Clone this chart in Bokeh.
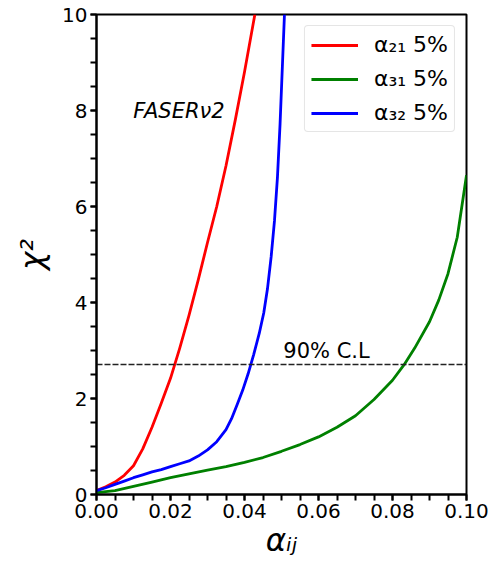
import numpy as np
from bokeh.plotting import figure
from bokeh.models import FixedTicker, PrintfTickFormatter, Label, Legend, LegendItem, Range1d
from bokeh.embed import file_html
from bokeh.resources import INLINE

# ---- data ----
a21_x = [0.0, 0.0025, 0.005, 0.0075, 0.010, 0.0125, 0.015, 0.0175, 0.020, 0.0225,
         0.025, 0.0275, 0.030, 0.0325, 0.035, 0.0375, 0.040, 0.0428]
a21_y = [0.08, 0.16, 0.26, 0.40, 0.60, 0.95, 1.40, 1.90, 2.42, 3.05,
         3.73, 4.47, 5.25, 6.00, 6.85, 7.80, 8.80, 10.0]

a31_x = [0.0, 0.005, 0.010, 0.015, 0.020, 0.025, 0.030, 0.035, 0.040, 0.045, 0.050,
         0.055, 0.060, 0.065, 0.070, 0.075, 0.080, 0.0831, 0.086, 0.090, 0.0925,
         0.095, 0.0975, 0.100]
a31_y = [0.04, 0.08, 0.17, 0.26, 0.35, 0.43, 0.51, 0.58, 0.67, 0.77, 0.90,
         1.04, 1.20, 1.40, 1.64, 1.98, 2.38, 2.70, 3.05, 3.60, 4.05,
         4.60, 5.36, 6.65]

a32_x = [0.0, 0.0025, 0.005, 0.0075, 0.010, 0.0125, 0.015, 0.0175, 0.020, 0.0225,
         0.025, 0.0275, 0.030, 0.0325, 0.035, 0.0365, 0.0380, 0.0395, 0.0410, 0.0425,
         0.0440, 0.0452, 0.0462, 0.0472, 0.0481, 0.0489, 0.0496, 0.0502, 0.0508]
a32_y = [0.08, 0.14, 0.21, 0.28, 0.35, 0.41, 0.47, 0.52, 0.58, 0.64,
         0.70, 0.80, 0.93, 1.10, 1.35, 1.58, 1.87, 2.17, 2.52, 2.92,
         3.36, 3.78, 4.28, 4.95, 5.70, 6.60, 7.70, 8.85, 10.0]

cl90_x = [0.0, 0.1]
cl90_y = [2.71, 2.71]

series_labels = ["α₂₁ 5%", "α₃₁ 5%", "α₃₂ 5%"]
series_colors = ["#ff0000", "#008000", "#0000ff"]

x_major = [0.0, 0.02, 0.04, 0.06, 0.08, 0.10]
x_minor = [round(i * 0.005, 3) for i in range(21)]
y_major = [0, 2, 4, 6, 8, 10]
y_minor = [i * 0.5 for i in range(21)]

FONT = "DejaVu Sans"

p = figure(width=495, height=567, output_backend="svg", toolbar_location=None,
           x_range=Range1d(0, 0.1), y_range=Range1d(0, 10),
           min_border_left=96, min_border_right=29, min_border_top=14, min_border_bottom=73)
p.background_fill_color = "white"
p.border_fill_color = "white"
p.grid.visible = False
p.outline_line_color = "black"
p.outline_line_width = 2

p.xaxis.ticker = FixedTicker(ticks=x_major, minor_ticks=x_minor)
p.yaxis.ticker = FixedTicker(ticks=y_major, minor_ticks=y_minor)
p.xaxis.formatter = PrintfTickFormatter(format="%.2f")
p.yaxis.formatter = PrintfTickFormatter(format="%d")
for ax in (p.xaxis, p.yaxis):
    ax.axis_line_width = 2
    ax.axis_line_color = "black"
    ax.major_tick_line_width = 2
    ax.minor_tick_line_width = 2
    ax.major_tick_in = 0
    ax.minor_tick_in = 0
    ax.major_tick_out = 6
    ax.minor_tick_out = 6
    ax.major_label_text_font = FONT
    ax.major_label_text_font_size = "20px"
    ax.major_label_text_color = "black"
    ax.major_label_standoff = 3
    ax.axis_label_text_font = FONT
    ax.axis_label_text_color = "black"
    ax.axis_label_text_font_style = "italic"

p.xaxis.axis_label = "αᵢⱼ"
p.xaxis.axis_label_text_font_size = "31px"
p.xaxis.axis_label_standoff = 1
p.yaxis.axis_label = "χ²"
p.yaxis.axis_label_text_font_size = "31px"
p.yaxis.axis_label_standoff = 9

lines = []
for xs, ys, c in [(a21_x, a21_y, series_colors[0]), (a31_x, a31_y, series_colors[1]), (a32_x, a32_y, series_colors[2])]:
    lines.append(p.line(xs, ys, line_color=c, line_width=2.8, line_join="round"))

p.line(cl90_x, cl90_y, line_color="#222222", line_width=1.5, line_dash="6 2")

legend = Legend(items=[LegendItem(label=series_labels[i], renderers=[lines[i]]) for i in range(3)],
                location="top_right", margin=11, padding=6,
                glyph_width=47, glyph_height=24, spacing=9, label_standoff=16,
                label_text_font=FONT, label_text_font_size="22px", label_text_color="black",
                border_line_color="#cccccc", border_line_width=1,
                background_fill_alpha=0.8, border_radius=4)
p.add_layout(legend)

p.add_layout(Label(x=0.0099, y=7.99, text="FASERν2", text_font=FONT, text_font_size="21px",
                   text_font_style="italic", text_baseline="alphabetic", text_align="left",
                   text_color="black"))
p.add_layout(Label(x=0.0505, y=2.99, text="90% C.L", text_font=FONT, text_font_size="21px",
                   text_baseline="alphabetic", text_align="left", text_color="black"))

open("out.html", "w").write(file_html(p, INLINE))
